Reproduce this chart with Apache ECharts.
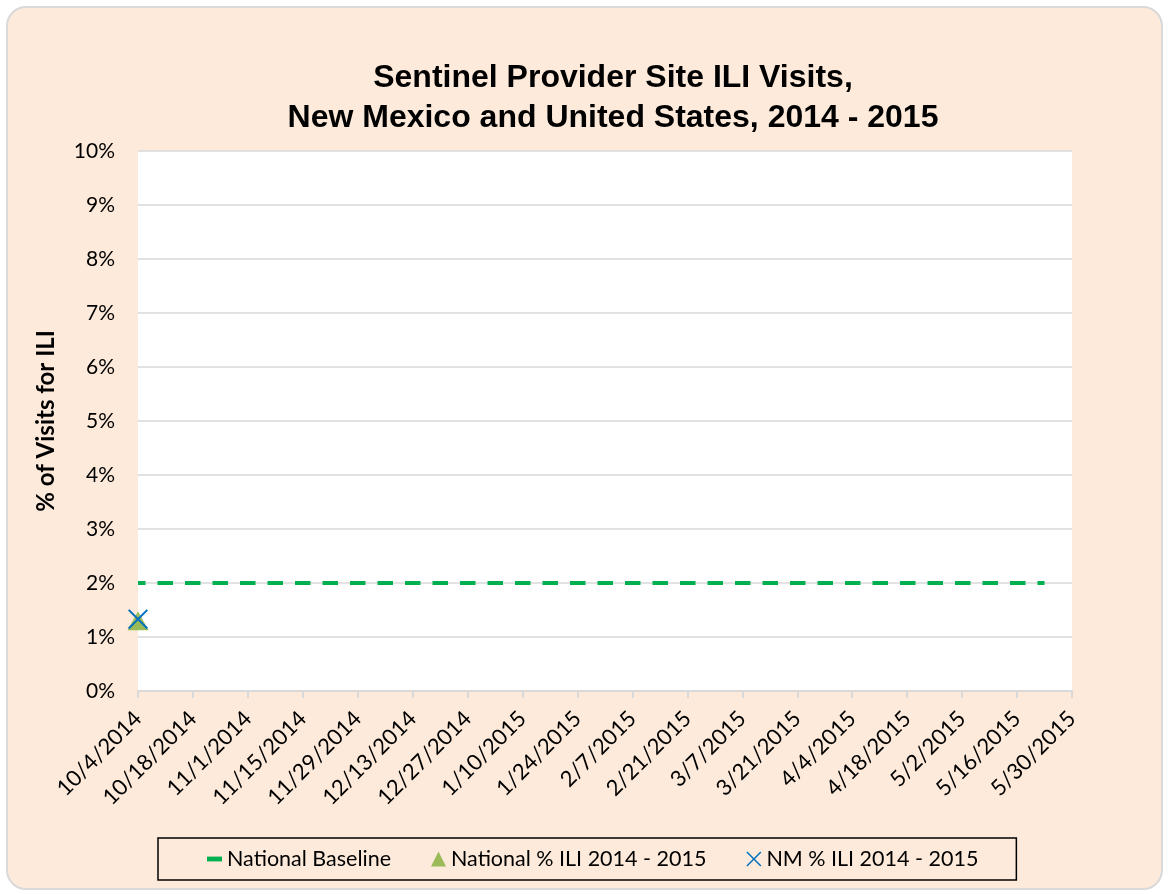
<!DOCTYPE html>
<html>
<head>
<meta charset="utf-8">
<script src="https://cdn.jsdelivr.net/npm/echarts@6/dist/echarts.min.js"></script>
<style>
html,body{margin:0;padding:0;background:#fff;}
#frame{position:absolute;left:6px;top:6px;width:1153px;height:880px;background:#FDEADA;border:2px solid #D9D9D9;border-radius:20px;}
#chart{position:absolute;left:0;top:0;width:1168px;height:894px;}
</style>
</head>
<body>
<div id="frame"></div>
<div id="chart"></div>
<script>
// weekly report dates, 2014-15 season
var weeks = ['10/4/2014','10/11/2014','10/18/2014','10/25/2014','11/1/2014','11/8/2014','11/15/2014','11/22/2014','11/29/2014',
	'12/6/2014','12/13/2014','12/20/2014','12/27/2014','1/3/2015','1/10/2015','1/17/2015','1/24/2015','1/31/2015',
	'2/7/2015','2/14/2015','2/21/2015','2/28/2015','3/7/2015','3/14/2015','3/21/2015','3/28/2015','4/4/2015',
	'4/11/2015','4/18/2015','4/25/2015','5/2/2015','5/9/2015','5/16/2015','5/23/2015','5/30/2015'];

var baseline = [2,2,2,2,2,2,2,2,2,2,2,2,2,2,2,2,2,2,2,2,2,2,2,2,2,2,2,2,2,2,2,2,2,2,null];

var nationalIli = [1.3,null,null,null,null,null,null,null,null,null,null,null,null,null,null,null,null,null,
	null,null,null,null,null,null,null,null,null,null,null,null,null,null,null,null,null];

var nmIli = [1.33,null,null,null,null,null,null,null,null,null,null,null,null,null,null,null,null,null,
	null,null,null,null,null,null,null,null,null,null,null,null,null,null,null,null,null];

var yTicks = [0,1,2,3,4,5,6,7,8,9,10];

var FONT = 'Lato, "Open Sans", sans-serif';
var xMark = 'path://M0.7,0 L5,4.3 L9.3,0 L10,0.7 L5.7,5 L10,9.3 L9.3,10 L5,5.7 L0.7,10 L0,9.3 L4.3,5 L0,0.7 Z';

var myChart = echarts.init(document.getElementById('chart'));

var option = {
	backgroundColor: 'transparent',
	animation: false,
	title: {
		text: 'Sentinel Provider Site ILI Visits,\nNew Mexico and United States, 2014 - 2015',
		left: 613,
		top: 58,
		padding: 0,
		textAlign: 'center',
		textStyle: {
			fontFamily: '"Liberation Sans", Arial, sans-serif',
			fontWeight: 'bold',
			fontSize: 32,
			lineHeight: 40,
			color: '#000'
		}
	},
	grid: {
		left: 138,
		top: 151,
		right: 96,
		bottom: 203,
		show: true,
		backgroundColor: '#fff',
		borderWidth: 0
	},
	legend: {
		left: 158,
		top: 838,
		padding: [10, 38, 10, 49],
		borderColor: '#000',
		borderWidth: 1.5,
		itemGap: 40,
		itemWidth: 15,
		itemHeight: 15,
		textStyle: {fontFamily: FONT, fontSize: 21.5, color: '#000'},
		data: [
			{name: 'National Baseline', icon: 'path://M0,0 L10,0 L10,3.2 L0,3.2 Z'},
			{name: 'National % ILI 2014 - 2015', icon: 'triangle'},
			{name: 'NM % ILI 2014 - 2015', icon: xMark}
		]
	},
	xAxis: {
		type: 'category',
		data: weeks,
		boundaryGap: false,
		axisLine: {lineStyle: {color: '#D9D9D9', width: 2}},
		axisTick: {interval: 1, length: 7, lineStyle: {color: '#D9D9D9', width: 2}},
		axisLabel: {
			interval: 1,
			rotate: 45,
			margin: 24,
			fontFamily: FONT,
			fontSize: 22,
			color: '#000'
		},
		splitLine: {show: false}
	},
	yAxis: {
		type: 'value',
		min: yTicks[0],
		max: yTicks[yTicks.length - 1],
		interval: 1,
		name: '% of Visits for ILI',
		nameLocation: 'middle',
		nameGap: 80,
		nameTextStyle: {fontFamily: FONT, fontWeight: 'bold', fontSize: 24, color: '#000'},
		axisLine: {show: false},
		axisTick: {show: false},
		axisLabel: {
			formatter: '{value}%',
			margin: 23,
			fontFamily: FONT,
			fontSize: 21,
			color: '#000'
		},
		splitLine: {lineStyle: {color: '#D9D9D9', width: 1.5}}
	},
	series: [
		{
			name: 'National Baseline',
			type: 'line',
			data: baseline,
			symbol: 'none',
			itemStyle: {color: '#00B050'},
			lineStyle: {color: '#00B050', width: 4, type: [15.5, 12], dashOffset: 8, cap: 'butt'},
			z: 3
		},
		{
			name: 'National % ILI 2014 - 2015',
			type: 'scatter',
			data: nationalIli,
			symbol: 'triangle',
			symbolSize: [21, 19],
			itemStyle: {color: '#9BBB59', opacity: 1},
			z: 4
		},
		{
			name: 'NM % ILI 2014 - 2015',
			type: 'scatter',
			data: nmIli,
			symbol: xMark,
			symbolSize: 20,
			itemStyle: {color: '#0070C0', opacity: 1},
			z: 5
		}
	]
};

myChart.setOption(option);
</script>
</body>
</html>
